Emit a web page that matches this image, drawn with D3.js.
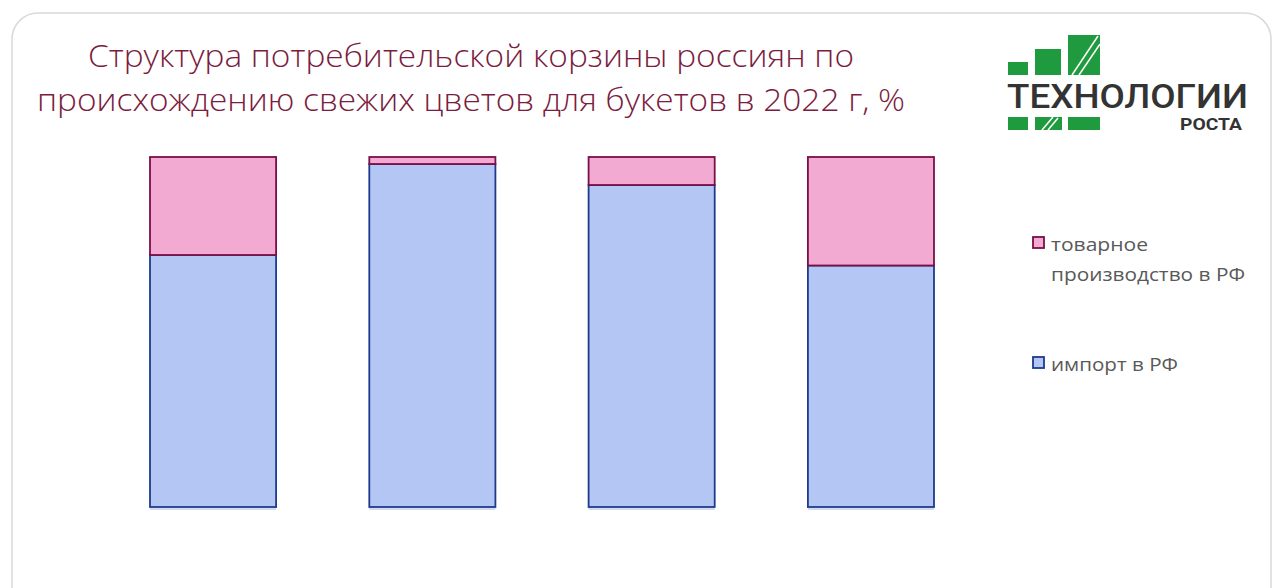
<!DOCTYPE html>
<html>
<head>
<meta charset="utf-8">
<script src="https://cdn.jsdelivr.net/npm/d3@7"></script>
<style>
  html, body { margin: 0; padding: 0; background: #fff; }
  svg { display: block; }
</style>
</head>
<body>
<div id="chart"></div>
<script>
// data (share in %)
var categories = ["1", "2", "3", "4"];
var importRF = [72, 98, 92, 69];
var domesticRF = [28, 2, 8, 31];
var seriesNames = ["товарное производство в РФ", "импорт в РФ"];
var titleLines = ["Структура потребительской корзины россиян по",
                  "происхождению свежих цветов для букетов в 2022 г, %"];

var W = 1273, H = 588;
var svg = d3.select("#chart").append("svg").attr("width", W).attr("height", H);

// card frame
svg.append("rect")
  .attr("x", 12).attr("y", 13)
  .attr("width", 1259).attr("height", 620)
  .attr("rx", 26)
  .attr("fill", "#fff")
  .attr("stroke", "#d9d9d9").attr("stroke-width", 1.5);

// title
var titleWidths = [766, 868];
svg.append("g").selectAll("text")
  .data(titleLines).enter().append("text")
  .attr("x", 471)
  .attr("y", function(d, i) { return 67 + i * 44; })
  .attr("text-anchor", "middle")
  .attr("font-family", "Open Sans, sans-serif")
  .attr("font-weight", 300)
  .attr("font-size", "31px")
  .attr("fill", "#7b1c40")
  .attr("textLength", function(d, i) { return titleWidths[i]; })
  .attr("lengthAdjust", "spacingAndGlyphs")
  .text(function(d) { return d; });

var xScale = d3.scaleBand().domain(categories)
  .range([103.4, 980.6]).paddingInner(0.425).paddingOuter(0.2125);
var yScale = d3.scaleLinear().domain([0, 100]).range([507, 157]);

var rows = categories.map(function(c, i) {
  return { cat: c, imp: importRF[i], dom: domesticRF[i] };
});
var stacked = d3.stack().keys(["imp", "dom"])(rows);

var colors = { imp: { fill: "#b4c7f4", stroke: "#1d3a8c" },
               dom: { fill: "#f2aad2", stroke: "#7a0f48" } };

var g = svg.append("g");

// faint shadow under the bars
g.selectAll(".shadow")
  .data(categories).enter().append("rect")
  .attr("x", function(d) { return xScale(d); })
  .attr("y", yScale(0) + 1)
  .attr("width", xScale.bandwidth())
  .attr("height", 2)
  .attr("fill", "#d4dbee");

stacked.forEach(function(layer) {
  g.selectAll(".bar-" + layer.key)
    .data(layer).enter().append("rect")
    .attr("class", "bar-" + layer.key)
    .attr("x", function(d) { return xScale(d.data.cat); })
    .attr("y", function(d) { return yScale(d[1]); })
    .attr("width", xScale.bandwidth())
    .attr("height", function(d) { return yScale(d[0]) - yScale(d[1]); })
    .attr("fill", colors[layer.key].fill)
    .attr("stroke", colors[layer.key].stroke)
    .attr("stroke-width", 1.8);
});

// legend
var legend = svg.append("g").attr("font-family", "Open Sans, sans-serif")
  .attr("font-size", "19px").attr("fill", "#595959");
var legendItems = [
  { key: "dom", y: 237, lines: ["товарное", "производство в РФ"], widths: [97, 194] },
  { key: "imp", y: 357, lines: ["импорт в РФ"], widths: [127] }
];
legendItems.forEach(function(it) {
  legend.append("rect")
    .attr("x", 1033).attr("y", it.y)
    .attr("width", 11).attr("height", 11)
    .attr("fill", colors[it.key].fill)
    .attr("stroke", colors[it.key].stroke).attr("stroke-width", 1.8);
  it.lines.forEach(function(l, i) {
    legend.append("text")
      .attr("x", 1051).attr("y", it.y + 14 + i * 30)
      .attr("textLength", it.widths[i])
      .attr("lengthAdjust", "spacingAndGlyphs")
      .text(l);
  });
});

// logo
var logo = svg.append("g");
var green = "#1f9a3e";
logo.append("rect").attr("x", 1008).attr("y", 62).attr("width", 20).attr("height", 13).attr("fill", green);
logo.append("rect").attr("x", 1035).attr("y", 49).attr("width", 26).attr("height", 26).attr("fill", green);
logo.append("rect").attr("x", 1068).attr("y", 35).attr("width", 32).attr("height", 40).attr("fill", green);
logo.append("rect").attr("x", 1008).attr("y", 117).attr("width", 20).attr("height", 13).attr("fill", green);
logo.append("rect").attr("x", 1035).attr("y", 117).attr("width", 27).attr("height", 13).attr("fill", green);
logo.append("rect").attr("x", 1068).attr("y", 117).attr("width", 32).attr("height", 13).attr("fill", green);
[[1072, 75, 1098, 36], [1079, 75, 1100, 44], [1042, 130, 1053, 117], [1048, 130, 1058, 118]].forEach(function(p) {
  logo.append("line").attr("x1", p[0]).attr("y1", p[1]).attr("x2", p[2]).attr("y2", p[3])
    .attr("stroke", "#fff").attr("stroke-width", 1.5);
});
logo.append("text").attr("x", 1007).attr("y", 108)
  .attr("font-family", "Roboto, sans-serif").attr("font-weight", 500)
  .attr("font-size", "34px").attr("fill", "#333")
  .attr("textLength", 241).attr("lengthAdjust", "spacingAndGlyphs")
  .text("ТЕХНОЛОГИИ");
logo.append("text").attr("x", 1180).attr("y", 130)
  .attr("font-family", "Roboto, sans-serif").attr("font-weight", 700)
  .attr("font-size", "17px").attr("fill", "#333")
  .attr("textLength", 62).attr("lengthAdjust", "spacingAndGlyphs")
  .text("РОСТА");
</script>
</body>
</html>
